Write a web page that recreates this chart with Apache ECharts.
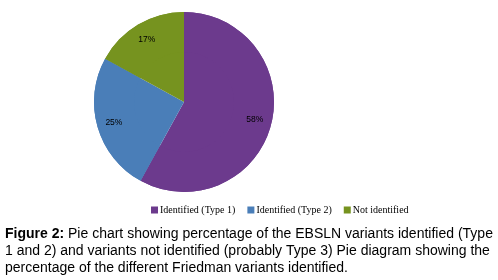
<!DOCTYPE html>
<html>
<head>
<meta charset="utf-8">
<script src="https://cdn.jsdelivr.net/npm/echarts@6/dist/echarts.min.js"></script>
<style>
  html, body { margin: 0; padding: 0; background: #fff; }
  #chart { width: 498px; height: 280px; }
</style>
</head>
<body>
<div id="chart"></div>
<script>
const categories = ['Identified (Type 1)', 'Identified (Type 2)', 'Not identified'];
const values = [58, 25, 17];
const colors = ['#6c3a8d', '#4a7eb8', '#76931f'];
const captionLines = [
  'Pie chart showing percentage of the EBSLN variants identified (Type',
  '1 and 2) and variants not identified (probably Type 3) Pie diagram showing the',
  'percentage of the different Friedman variants identified.'
];

const chart = echarts.init(document.getElementById('chart'));

const data = categories.map((name, i) => ({
  name: name,
  value: values[i],
  itemStyle: { color: colors[i] }
}));

const options = {
  backgroundColor: '#fff',
  animation: false,
  legend: {
    data: categories,
    left: 146,
    top: 200,
    itemWidth: 7,
    itemHeight: 7,
    itemGap: 12,
    icon: 'rect',
    textStyle: {
      fontFamily: 'Liberation Serif',
      fontSize: 10,
      color: '#000',
      padding: [0, 0, 0, -3]
    }
  },
  series: [
    {
      type: 'pie',
      center: [184, 102],
      radius: [0, 90],
      startAngle: 90,
      clockwise: true,
      data: data,
      label: { show: false },
      labelLine: { show: false },
      itemStyle: { borderWidth: 0 },
      emphasis: { disabled: true }
    },
    {
      type: 'pie',
      center: [184, 102],
      radius: [50, 90],
      startAngle: 90,
      clockwise: true,
      data: data,
      label: {
        show: true,
        position: 'inside',
        formatter: '{c}%',
        fontFamily: 'Liberation Sans',
        fontSize: 8.5,
        color: '#000'
      },
      labelLine: { show: false },
      itemStyle: { color: 'transparent', borderColor: 'transparent' },
      emphasis: { disabled: true },
      silent: true
    }
  ],
  graphic: [
    {
      type: 'text',
      left: 5,
      top: 226,
      style: {
        text: '{b|Figure 2:} ' + captionLines[0] + '\n' + captionLines[1] + '\n' + captionLines[2],
        font: '14px "Liberation Sans"',
        fill: '#000',
        lineHeight: 17,
        rich: {
          b: { fontWeight: 'bold', fontFamily: 'Liberation Sans', fontSize: 14, fill: '#000' }
        }
      }
    }
  ]
};

chart.setOption(options);
</script>
</body>
</html>
